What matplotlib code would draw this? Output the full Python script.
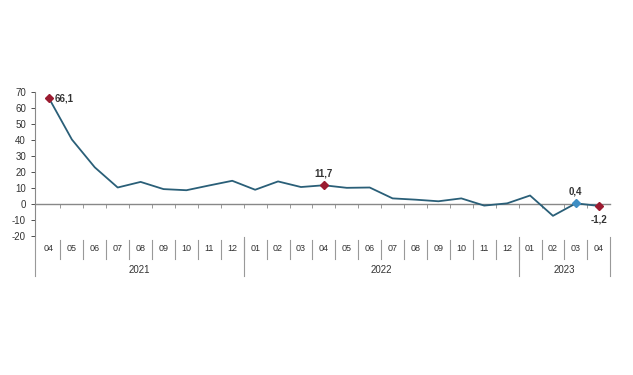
import matplotlib.pyplot as plt
import matplotlib.transforms as mtransforms
import numpy as np

plt.rcParams['font.family'] = ['Liberation Sans', 'DejaVu Sans']
plt.rcParams['axes.unicode_minus'] = False

months = ['04', '05', '06', '07', '08', '09', '10', '11', '12',
          '01', '02', '03', '04', '05', '06', '07', '08', '09', '10', '11', '12',
          '01', '02', '03', '04']
years = ['2021', '2022', '2023']
year_counts = [9, 12, 4]
values = [66.1, 40.3, 22.9, 10.3, 13.8, 9.3, 8.6, 11.6, 14.5,
          8.9, 14.1, 10.6, 11.7, 10.1, 10.3, 3.5, 2.7, 1.7, 3.5, -1.0, 0.4,
          5.3, -7.4, 0.4, -1.2]

red_idx = [0, 12, 24]
blue_idx = [23]
labels = {0: '66,1', 12: '11,7', 23: '0,4', 24: '-1,2'}

line_col = '#2a5f78'
red_col = '#9b1b30'
blue_col = '#3e8ec4'

fig = plt.figure(figsize=(6.33, 3.75), dpi=100)
ax = fig.add_axes([0.0553, 0.3707, 0.908, 0.384])

x = np.arange(len(values))
ax.plot(x, values, color=line_col, lw=1.3, zorder=3)
ax.plot(x[red_idx], np.array(values)[red_idx], 'D', color=red_col, ms=4.5, zorder=4)
ax.plot(x[blue_idx], np.array(values)[blue_idx], 'D', color=blue_col, ms=4.5, zorder=4)

for i, t in labels.items():
    if i == 0:
        ax.annotate(t, (i, values[i]), xytext=(4, 0), textcoords='offset points',
                    ha='left', va='center', fontsize=7, fontweight='bold', color='#333333')
    elif values[i] < 0:
        ax.annotate(t, (i, values[i]), xytext=(0, -6), textcoords='offset points',
                    ha='center', va='top', fontsize=7, fontweight='bold', color='#333333')
    else:
        ax.annotate(t, (i, values[i]), xytext=(0, 5), textcoords='offset points',
                    ha='center', va='bottom', fontsize=7, fontweight='bold', color='#333333')

ax.set_xlim(-0.61, 24.48)
ax.set_ylim(-20, 70)
ax.set_yticks(range(-20, 71, 10))
ax.tick_params(axis='y', labelsize=7, length=3, width=0.6, colors='#333333')
ax.spines['top'].set_visible(False)
ax.spines['right'].set_visible(False)
ax.spines['left'].set_color('#888888')
ax.spines['left'].set_linewidth(0.8)
ax.spines['bottom'].set_position(('data', 0))
ax.spines['bottom'].set_color('#888888')
ax.spines['bottom'].set_linewidth(1.0)
ax.set_xticks(np.arange(len(values) - 1) + 0.5)
ax.set_xticklabels([])
ax.tick_params(axis='x', length=3, width=0.6, colors='#888888', direction='out')

# category table under the chart
trans = mtransforms.blended_transform_factory(ax.transData, ax.transAxes)
for i, m in enumerate(months):
    ax.text(i, -0.09, m, transform=trans, ha='center', va='center', fontsize=6.5, color='#333333')
for b in np.arange(len(months) - 1) + 0.5:
    ax.plot([b, b], [-0.03, -0.16], transform=trans, color='#999999', lw=0.8, clip_on=False)

edges = np.concatenate([[0], np.cumsum(year_counts)]) - 0.5
edges[0] = -0.61
edges[-1] = 24.48
for e in edges:
    ax.plot([e, e], [-0.01, -0.28], transform=trans, color='#999999', lw=0.8, clip_on=False)
for k, yr in enumerate(years):
    mid = (edges[k] + edges[k + 1]) / 2
    ax.text(mid, -0.235, yr, transform=trans, ha='center', va='center', fontsize=7, color='#333333')

fig.savefig('out.png', dpi=100)
